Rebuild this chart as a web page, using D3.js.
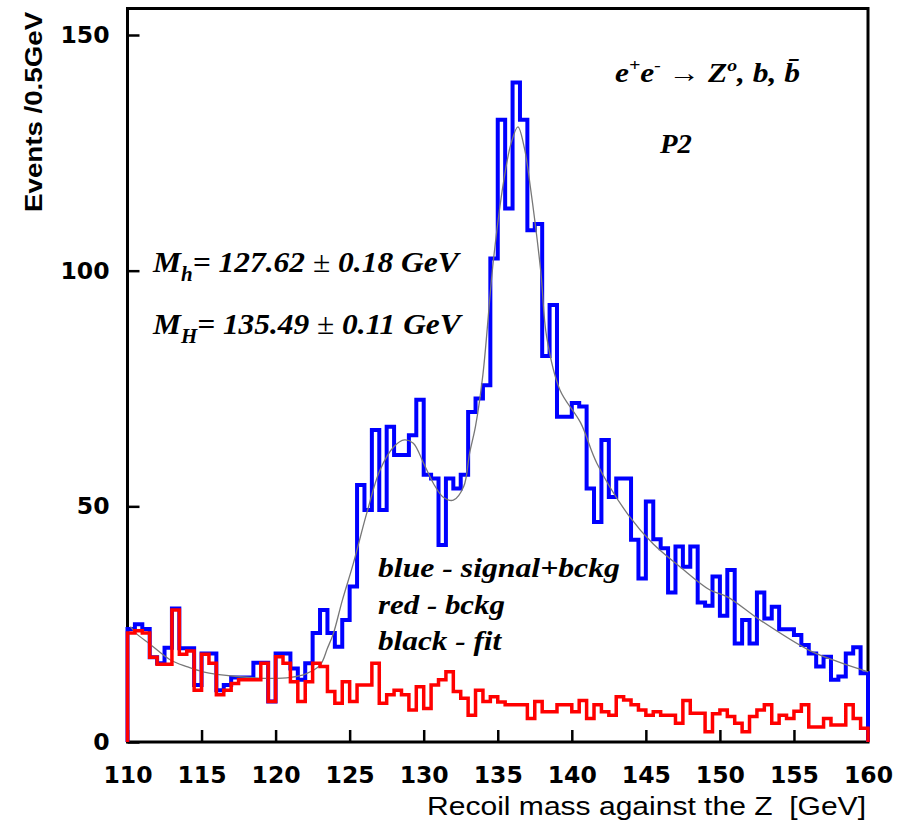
<!DOCTYPE html>
<html><head><meta charset="utf-8">
<script src="https://cdn.jsdelivr.net/npm/d3@7"></script>
<style>body{margin:0;background:#fff} svg{display:block}</style>
</head><body>
<script>
// ---- data ----
const binStart = 110, binWidth = 0.5;
const blueCounts = [24, 25, 24, 18, 16.7, 20, 28.3, 19.9, 19.9, 12.1, 18.8, 18.8, 11, 12.1, 13.7, 13.7, 13.7, 16.8, 16.8, 8.6, 18.8, 18.8, 15.6, 13.2,
  16.7, 23.1, 28, 23.1, 20.2, 25.9, 33, 54.5, 49.2, 66.2, 49.2, 66.9, 60.9, 60.9, 65.1, 72.6, 56.7, 55.9, 41.8, 55.9, 53.8, 56.7, 70, 72.9, 75.7, 102.6,
  132, 113.2, 139.9, 132, 108.6, 109.9, 81.9, 92.7, 69, 69, 71.9, 71.2, 53.8, 46.7, 64.1, 52, 55.9, 55.9, 42.9, 34.7, 51, 43, 41.1, 31.7, 41.5, 37.2,
  41.5, 29.6, 28.9, 35.1, 26.8, 36.5, 20.9, 25.9, 20.9, 31.7, 26.2, 28.7, 23.9, 23.9, 22.7, 20.6, 18.8, 16, 18.1, 13.2, 13.9, 18.8, 20.1, 14.6];
const redCounts = [23.1, 23.6, 23.1, 18, 16.5, 16.5, 28, 18.6, 19.3, 11, 18.6, 16.7, 10, 11, 12.4, 13.2, 13.2, 13.2, 16.7, 8.6, 18.1, 16.7, 12.8, 8.6,
  12.8, 16.7, 16, 10.7, 8.2, 12.8, 8.6, 12.1, 12.1, 16.7, 8.2, 10, 11, 10, 6.8, 11.7, 7.1, 12.1, 13.2, 14.9, 10.7, 9.3, 5.7, 11, 8.6, 9.6,
  8.5, 7.9, 7.9, 7.9, 5, 8.6, 6.4, 6.4, 7.9, 7.9, 6.4, 8.8, 5, 7.9, 6.4, 5.7, 9.6, 8.9, 7.9, 6.8, 5.7, 6.4, 5.7, 5.7, 4, 8.8,
  6.1, 6.1, 2.2, 6, 6.8, 5.4, 4, 2.2, 5.4, 6.8, 7.9, 4, 5.7, 5, 6.5, 7.9, 3.2, 3.2, 5, 3.6, 3.6, 7.9, 5, 2.9];
const fitMass = [110.2, 110.6, 111.5, 112.9, 114, 115.1, 117.4, 119.6, 121, 122, 123, 123.5, 123.9, 124.5, 125.25, 126.15, 127.05, 128, 128.7, 129.3,
  130, 130.65, 131.3, 132, 132.7, 133.1, 133.5, 134, 134.7, 135.4, 135.9, 136.36, 136.8, 137.2, 137.9, 138.3, 139.2, 140.6, 141.7, 143.9,
  145.5, 147.3, 149.3, 150.5, 152.7, 156, 158, 160];
const fitEvents = [24.5, 23, 20.8, 17.4, 16, 14.9, 13.9, 13.5, 13.7, 14.4, 16.3, 19.9, 23, 30, 37.9, 48.5, 57.7, 62.7, 64.1, 63.4,
  59.1, 54.9, 52, 51.3, 54.2, 61.3, 67, 78, 102, 119, 127, 130.5, 126, 117.8, 100, 86, 74.7, 67.7, 59.1, 47.8,
  42, 37.2, 32.3, 30.8, 25.9, 19.5, 17, 14.9];
const xTicks = [110, 115, 120, 125, 130, 135, 140, 145, 150, 155, 160];
const yTicks = [0, 50, 100, 150];
const legendLines = ["blue - signal+bckg", "red - bckg", "black - fit"];

// ---- chart ----
const W = 908, H = 829;
const svg = d3.select("body").append("svg").attr("width", W).attr("height", H);
const x = d3.scaleLinear().domain([110, 160]).range([127.5, 868]);
const y = d3.scaleLinear().domain([0, 150]).range([742, 35]);

// frame
svg.append("rect").attr("x", 127.5).attr("y", 8.5).attr("width", 868 - 127.5).attr("height", 742 - 8.5)
  .attr("fill", "none").attr("stroke", "#000").attr("stroke-width", 3);

const xAxis = d3.axisBottom(x).tickValues(xTicks).tickSize(-12).tickPadding(24).tickFormat(d3.format("d"));
svg.append("g").attr("transform", "translate(0,742)").call(xAxis)
  .call(g => g.select(".domain").remove())
  .call(g => g.selectAll("line").attr("stroke", "#000").attr("stroke-width", 2.5))
  .call(g => g.selectAll("text").attr("font-family", "DejaVu Sans").attr("font-weight", "bold")
    .attr("font-size", 23.5).attr("fill", "#000"));

const yAxis = d3.axisLeft(y).tickValues(yTicks).tickSize(-12).tickPadding(18).tickFormat(d3.format("d"));
svg.append("g").attr("transform", "translate(127.5,0)").call(yAxis)
  .call(g => g.select(".domain").remove())
  .call(g => g.selectAll("line").attr("stroke", "#000").attr("stroke-width", 2.5))
  .call(g => g.selectAll("text").attr("font-family", "DejaVu Sans").attr("font-weight", "bold")
    .attr("font-size", 23.5).attr("fill", "#000"));

function stepPoints(counts) {
  const pts = [[binStart, 0]];
  counts.forEach((c, i) => {
    const x0 = binStart + i * binWidth;
    pts.push([x0, c], [x0 + binWidth, c]);
  });
  pts.push([binStart + counts.length * binWidth, 0]);
  return pts;
}
const line = d3.line().x(d => x(d[0])).y(d => y(d[1]));

svg.append("path").attr("d", line(stepPoints(blueCounts)))
  .attr("fill", "none").attr("stroke", "#0000ff").attr("stroke-width", 4).attr("stroke-linejoin", "miter");

svg.append("path").attr("d", d3.line().x(d => x(d[0])).y(d => y(d[1])).curve(d3.curveCatmullRom.alpha(0.5))(fitMass.map((m, i) => [m, fitEvents[i]])))
  .attr("fill", "none").attr("stroke", "#777").attr("stroke-width", 1.3);

svg.append("path").attr("d", line(stepPoints(redCounts)))
  .attr("fill", "none").attr("stroke", "#ff0000").attr("stroke-width", 3.5).attr("stroke-linejoin", "miter");

// ---- text helpers ----
function stretchText(xp, yp, targetW, anchor, build, rot) {
  const g = svg.append("g");
  const t = g.append("text").attr("text-anchor", anchor).attr("fill", "#000").style("white-space", "pre");
  build(t);
  const w = t.node().getBBox().width;
  g.attr("transform", `translate(${xp},${yp})${rot ? " rotate(" + rot + ")" : ""} scale(${targetW / w},1)`);
  return g;
}
const serif = t => t.attr("font-family", "Liberation Serif").attr("font-weight", "bold").attr("font-style", "italic");

// axis titles
stretchText(866, 815, 439, "end", t => t.attr("font-family", "Liberation Sans").attr("font-size", 25)
  .text("Recoil mass against the Z  [GeV]"));
stretchText(42, 212, 201, "start", t => t.attr("font-family", "Liberation Sans").attr("font-weight", "bold").attr("font-size", 24.5)
  .text("Events /0.5GeV"), -90);

// process label
stretchText(615, 82, 185, "start", t => {
  serif(t).attr("font-size", 27);
  t.append("tspan").text("e");
  t.append("tspan").attr("dy", -11).attr("font-size", 17).text("+");
  t.append("tspan").attr("dy", 11).text("e");
  t.append("tspan").attr("dy", -11).attr("font-size", 17).text("-");
  t.append("tspan").attr("dy", 11).attr("font-style", "normal").text(" \u2192 ");
  t.append("tspan").text("Z");
  t.append("tspan").attr("dy", -11).attr("font-size", 17).text("o");
  t.append("tspan").attr("dy", 11).text(", b, b\u0304");
});
stretchText(660, 153, 33, "start", t => { serif(t).attr("font-size", 27).text("P2"); });

// mass results
stretchText(153, 272, 310, "start", t => {
  serif(t).attr("font-size", 30);
  t.append("tspan").text("M");
  t.append("tspan").attr("dy", 9).attr("font-size", 20).text("h");
  t.append("tspan").attr("dy", -9).text("= 127.62 ");
  t.append("tspan").attr("font-style", "normal").attr("font-weight", "normal").text("\u00b1");
  t.append("tspan").text(" 0.18 GeV");
});
stretchText(153, 334, 312, "start", t => {
  serif(t).attr("font-size", 30);
  t.append("tspan").text("M");
  t.append("tspan").attr("dy", 9).attr("font-size", 20).text("H");
  t.append("tspan").attr("dy", -9).text("= 135.49 ");
  t.append("tspan").attr("font-style", "normal").attr("font-weight", "normal").text("\u00b1");
  t.append("tspan").text(" 0.11 GeV");
});

// legend text
const legendWidths = [242, 127, 125];
legendLines.forEach((s, i) => {
  stretchText(378, 577 + i * 36.5, legendWidths[i], "start", t => { serif(t).attr("font-size", 27).text(s); });
});
</script>
</body></html>
